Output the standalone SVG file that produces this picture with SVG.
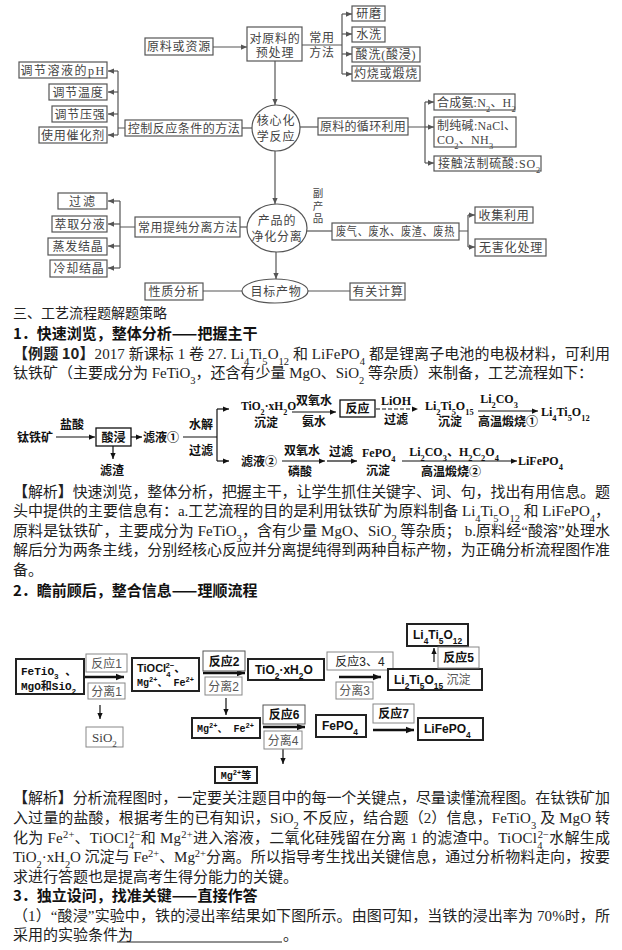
<svg xmlns="http://www.w3.org/2000/svg" width="622" height="950" viewBox="0 0 622 950">
<defs>
<style>
.bg{fill:#fff}
.box{fill:#fff;stroke:#555;stroke-width:1.2}
.ln{stroke:#555;stroke-width:1.2;fill:none}
.t{font-family:'Liberation Serif','Noto Sans CJK SC',serif;font-size:12px;fill:#444;letter-spacing:0.8px}
.tc{text-anchor:middle}
.p{font-family:'Liberation Serif','Noto Sans CJK SC',serif;font-size:15px;fill:#222}
.h{font-family:'Noto Sans CJK SC',sans-serif;font-size:15px;font-weight:bold;fill:#111}
.f1{font-family:'Liberation Serif','Noto Sans CJK SC',serif;font-size:12px;font-weight:bold;fill:#111}
.l1{stroke:#111;stroke-width:1.2;fill:none}
.sb{font-size:70%;baseline-shift:sub}
.sp{font-size:70%;baseline-shift:super}
.lb{fill:#fff;stroke:#888;stroke-width:1}
.sbx{fill:#fff;stroke:#222;stroke-width:2}
.g2{font-family:'Liberation Sans','Noto Sans CJK SC',sans-serif;font-size:12px;fill:#555}
.b2{font-family:'Liberation Sans','Noto Sans CJK SC',sans-serif;font-size:12px;font-weight:bold;fill:#111}
.m2{font-family:'Liberation Mono','Noto Sans CJK SC',monospace;font-size:11px;font-weight:bold;fill:#111}
.th{stroke:#111;stroke-width:2.5;fill:none}
</style>
<marker id="ag" viewBox="0 0 8 8" refX="8" refY="4" markerWidth="6" markerHeight="6" markerUnits="userSpaceOnUse" orient="auto"><path d="M0,0.5 L8,4 L0,7.5 z" fill="#555"/></marker>
<marker id="ab" viewBox="0 0 8 8" refX="8" refY="4" markerWidth="6" markerHeight="6" markerUnits="userSpaceOnUse" orient="auto"><path d="M0,0.5 L8,4 L0,7.5 z" fill="#111"/></marker>
<marker id="at" viewBox="0 0 10 10" refX="10" refY="5" markerWidth="8" markerHeight="8" markerUnits="userSpaceOnUse" orient="auto"><path d="M0,1 L10,5 L0,9 z" fill="#111"/></marker>
</defs>
<rect class="bg" x="0" y="0" width="622" height="950"/>

<g id="connectors">
<path class="ln" d="M213,47 H247" marker-end="url(#ag)"/>
<path class="ln" d="M302,45 H342 M342,14 V74"/>
<path class="ln" d="M342,14 H352" marker-end="url(#ag)"/>
<path class="ln" d="M342,34 H352" marker-end="url(#ag)"/>
<path class="ln" d="M342,54 H352" marker-end="url(#ag)"/>
<path class="ln" d="M342,74 H352" marker-end="url(#ag)"/>
<path class="ln" d="M275,61 V105" marker-end="url(#ag)"/>
<path class="ln" d="M242,128 H252"/>
<path class="ln" d="M125,128 H118 M118,71 V135"/>
<path class="ln" d="M118,71 H108" marker-end="url(#ag)"/>
<path class="ln" d="M118,92 H108" marker-end="url(#ag)"/>
<path class="ln" d="M118,114 H108" marker-end="url(#ag)"/>
<path class="ln" d="M118,135 H108" marker-end="url(#ag)"/>
<path class="ln" d="M300,127 H318"/>
<path class="ln" d="M408,127 H425 M425,102 V163"/>
<path class="ln" d="M425,102 H434" marker-end="url(#ag)"/>
<path class="ln" d="M425,127 H434" marker-end="url(#ag)"/>
<path class="ln" d="M425,163 H434" marker-end="url(#ag)"/>
<path class="ln" d="M275,151 V204" marker-end="url(#ag)"/>
<path class="ln" d="M240,227 H247"/>
<path class="ln" d="M135,227 H120 M120,201 V268"/>
<path class="ln" d="M120,201 H108" marker-end="url(#ag)"/>
<path class="ln" d="M120,224 H108" marker-end="url(#ag)"/>
<path class="ln" d="M120,246 H108" marker-end="url(#ag)"/>
<path class="ln" d="M120,268 H108" marker-end="url(#ag)"/>
<path class="ln" d="M307,231 H332"/>
<path class="ln" d="M459,231 H468 M468,215 V247"/>
<path class="ln" d="M468,215 H475" marker-end="url(#ag)"/>
<path class="ln" d="M468,247 H475" marker-end="url(#ag)"/>
<path class="ln" d="M276,252 V279" marker-end="url(#ag)"/>
<path class="ln" d="M203,291 H242"/>
<path class="ln" d="M308,291 H350"/>
<path class="l1" d="M56,437 H95" marker-end="url(#ab)"/>
<path class="l1" d="M113,446 V459" marker-end="url(#ab)"/>
<path class="l1" d="M131,437 H142" marker-end="url(#ab)"/>
<path class="l1" d="M183,437 H217 M217,409 V461"/>
<path class="l1" d="M217,409 H229" marker-end="url(#ab)"/>
<path class="l1" d="M217,461 H229" marker-end="url(#ab)"/>
<path class="l1" d="M292,412 H336" marker-end="url(#ab)"/>
<path class="l1" d="M376,409 H418" stroke-dasharray="4,2" marker-end="url(#ab)"/>
<path class="l1" d="M478,411 H538" marker-end="url(#ab)"/>
<path class="l1" d="M282,461 H325" marker-end="url(#ab)"/>
<path class="l1" d="M327,461 H357" marker-end="url(#ab)"/>
<path class="l1" d="M402,461 H517" marker-end="url(#ab)"/>
<path class="th" d="M84,677 H124" marker-end="url(#at)"/>
<path class="l1" d="M100,705 V719" marker-end="url(#ab)"/>
<path class="th" d="M203,673 H245" marker-end="url(#at)"/>
<path class="l1" d="M226,698 V715" marker-end="url(#ab)"/>
<path class="th" d="M263,727 H305" marker-end="url(#at)"/>
<path class="l1" d="M283,749 V764" marker-end="url(#ab)"/>
<path class="th" d="M339,677 H381" marker-end="url(#at)"/>
<path class="l1" d="M434,662 V648" marker-end="url(#ab)"/>
<path class="th" d="M373,730 H414" marker-end="url(#at)"/>
</g>

<g id="n-raw"><rect class="box" x="145" y="38" width="68" height="17"/><text class="t tc" x="179" y="51">原料或资源</text></g>
<g id="n-pre"><rect class="box" x="247" y="27" width="55" height="34"/><text class="t tc" x="275" y="42.5">对原料的</text><text class="t tc" x="275" y="56.5">预处理</text></g>
<g id="lbl-method"><text class="t tc" x="322" y="42">常用</text><text class="t tc" x="322" y="57">方法</text></g>
<g id="n-grind"><rect class="box" x="352" y="6" width="33" height="15"/><text class="t tc" x="369" y="18">研磨</text></g>
<g id="n-wash"><rect class="box" x="352" y="27" width="33" height="15"/><text class="t tc" x="369" y="39">水洗</text></g>
<g id="n-acid"><rect class="box" x="352" y="47" width="68" height="15"/><text class="t tc" x="386" y="59">酸洗(酸浸)</text></g>
<g id="n-burn"><rect class="box" x="352" y="66" width="68" height="15"/><text class="t tc" x="386" y="78">灼烧或煅烧</text></g>

<g id="n-core"><ellipse class="box" cx="276" cy="128" rx="24" ry="23"/><text class="t tc" x="276" y="125">核心化</text><text class="t tc" x="276" y="141">学反应</text></g>
<g id="n-ctrl"><rect class="box" x="125" y="120" width="117" height="16"/><text class="t tc" x="184" y="132.5" style="letter-spacing:0.5px">控制反应条件的方法</text></g>
<g id="n-ph"><rect class="box" x="19" y="62" width="88" height="16"/><text class="t tc" x="63" y="74.5" style="letter-spacing:1.5px">调节溶液的pH</text></g>
<g id="n-temp"><rect class="box" x="49" y="84" width="58" height="16"/><text class="t tc" x="78" y="96.5">调节温度</text></g>
<g id="n-press"><rect class="box" x="52" y="106" width="55" height="16"/><text class="t tc" x="80" y="118.5">调节压强</text></g>
<g id="n-cat"><rect class="box" x="39" y="127" width="68" height="16"/><text class="t tc" x="73" y="139.5">使用催化剂</text></g>

<g id="n-cycle"><rect class="box" x="318" y="118" width="90" height="17"/><text class="t tc" x="363" y="131" style="letter-spacing:0.3px">原料的循环利用</text></g>
<g id="n-nh3"><rect class="box" x="434" y="94" width="81" height="16"/><text class="t" x="437" y="106.5" style="letter-spacing:0.2px">合成氨:N<tspan class="sb">2</tspan>、H<tspan class="sb">2</tspan></text></g>
<g id="n-soda"><rect class="box" x="434" y="117" width="82" height="30"/><text class="t" x="437" y="129.5" style="letter-spacing:0.3px">制纯碱:NaCl、</text><text class="t" x="437" y="144" style="letter-spacing:0.3px">CO<tspan class="sb">2</tspan>、NH<tspan class="sb">3</tspan></text></g>
<g id="n-h2so4"><rect class="box" x="434" y="156" width="107" height="15"/><text class="t" x="438" y="168">接触法制硫酸:SO<tspan class="sb">2</tspan></text></g>

<g id="n-purify"><ellipse class="box" cx="277" cy="228" rx="30" ry="24"/><text class="t tc" x="277" y="225">产品的</text><text class="t tc" x="277" y="240.5">净化分离</text></g>
<g id="n-sepm"><rect class="box" x="135" y="217" width="105" height="20"/><text class="t tc" x="188" y="231.5" style="letter-spacing:0.5px">常用提纯分离方法</text></g>
<g id="n-filter"><rect class="box" x="58" y="193" width="49" height="16"/><text class="t tc" x="83" y="205.5" style="letter-spacing:2px">过滤</text></g>
<g id="n-extract"><rect class="box" x="52" y="216" width="55" height="16"/><text class="t tc" x="80" y="228.5">萃取分液</text></g>
<g id="n-evap"><rect class="box" x="48" y="238" width="59" height="17"/><text class="t tc" x="78" y="251">蒸发结晶</text></g>
<g id="n-cool"><rect class="box" x="50" y="260" width="57" height="17"/><text class="t tc" x="79" y="273">冷却结晶</text></g>
<g id="lbl-by"><text class="t tc" x="318" y="197" style="font-size:10.5px;letter-spacing:0">副</text><text class="t tc" x="318" y="209.5" style="font-size:10.5px;letter-spacing:0">产</text><text class="t tc" x="318" y="222" style="font-size:10.5px;letter-spacing:0">品</text></g>
<g id="n-waste"><rect class="box" x="332" y="223" width="127" height="17"/><text class="t" x="336" y="236" textLength="119" lengthAdjust="spacingAndGlyphs">废气、废水、废渣、废热</text></g>
<g id="n-collect"><rect class="box" x="475" y="207" width="58" height="16"/><text class="t tc" x="504" y="219.5">收集利用</text></g>
<g id="n-harmless"><rect class="box" x="475" y="239" width="71" height="17"/><text class="t tc" x="511" y="252">无害化处理</text></g>
<g id="n-target"><ellipse class="box" cx="275" cy="291" rx="33" ry="12"/><text class="t tc" x="276" y="295.5">目标产物</text></g>
<g id="n-prop"><rect class="box" x="145" y="283" width="58" height="17"/><text class="t tc" x="174" y="296">性质分析</text></g>
<g id="n-calc"><rect class="box" x="350" y="283" width="55" height="17"/><text class="t tc" x="378" y="296">有关计算</text></g>

<g id="text-sec1">
<text class="p" x="13" y="318" style="font-family:'Noto Sans CJK SC',sans-serif;font-size:14px">三、工艺流程题解题策略</text>
<text class="h" x="13" y="339">1．快速浏览，整体分析——把握主干</text>
<text class="p" x="13" y="359" textLength="597" lengthAdjust="spacing"><tspan font-weight="bold" font-family="Noto Sans CJK SC, sans-serif">【例题 10】</tspan>2017 新课标 1 卷 27. Li<tspan class="sb">4</tspan>Ti<tspan class="sb">5</tspan>O<tspan class="sb">12</tspan> 和 LiFePO<tspan class="sb">4</tspan> 都是锂离子电池的电极材料，可利用</text>
<text class="p" x="13" y="378" textLength="580" lengthAdjust="spacing">钛铁矿（主要成分为 FeTiO<tspan class="sb">3</tspan>，还含有少量 MgO、SiO<tspan class="sb">2</tspan> 等杂质）来制备，工艺流程如下：</text>
</g>

<g id="f1-ore"><text class="f1" x="17" y="442">钛铁矿</text></g>
<g id="f1-hcl"><text class="f1 tc" x="72" y="429">盐酸</text></g>
<g id="f1-leach"><rect x="96" y="428" width="35" height="18" fill="#fff" stroke="#111" stroke-width="1.3"/><text class="f1 tc" x="113.5" y="441.5">酸浸</text></g>
<g id="f1-residue"><text class="f1 tc" x="112" y="475">滤渣</text></g>
<g id="f1-filtrate1"><text class="f1" x="143" y="442">滤液①</text></g>
<g id="f1-lbl1"><text class="f1 tc" x="201" y="429">水解</text><text class="f1 tc" x="201" y="455">过滤</text></g>
<g id="f1-tio2"><text class="f1" x="241" y="410" style="font-size:11.5px">TiO<tspan class="sb">2</tspan>·xH<tspan class="sb">2</tspan>O</text><text class="f1 tc" x="266" y="427">沉淀</text></g>
<g id="f1-lbl2"><text class="f1 tc" x="314" y="405">双氧水</text><text class="f1 tc" x="314" y="426">氨水</text></g>
<g id="f1-react"><rect x="340" y="400" width="35" height="17" fill="#fff" stroke="#111" stroke-width="1.3"/><text class="f1 tc" x="357.5" y="413">反应</text></g>
<g id="f1-lbl3"><text class="f1 tc" x="396" y="405">LiOH</text><text class="f1 tc" x="396" y="424">过滤</text></g>
<g id="f1-li2"><text class="f1" x="425" y="410">Li<tspan class="sb">2</tspan>Ti<tspan class="sb">5</tspan>O<tspan class="sb">15</tspan></text><text class="f1 tc" x="450" y="426">沉淀</text></g>
<g id="f1-lbl4"><text class="f1 tc" x="499" y="403">Li<tspan class="sb">2</tspan>CO<tspan class="sb">3</tspan></text><text class="f1 tc" x="508" y="426">高温煅烧①</text></g>
<g id="f1-li4"><text class="f1" x="541" y="416">Li<tspan class="sb">4</tspan>Ti<tspan class="sb">5</tspan>O<tspan class="sb">12</tspan></text></g>
<g id="f1-filtrate2"><text class="f1" x="241" y="466">滤液②</text></g>
<g id="f1-lbl5"><text class="f1 tc" x="302" y="455">双氧水</text><text class="f1 tc" x="300" y="476">磷酸</text></g>
<g id="f1-lbl6"><text class="f1 tc" x="341" y="456">过滤</text></g>
<g id="f1-fepo4"><text class="f1" x="362" y="457">FePO<tspan class="sb">4</tspan></text><text class="f1 tc" x="378" y="475">沉淀</text></g>
<g id="f1-lbl7"><text class="f1 tc" x="454" y="456">Li<tspan class="sb">2</tspan>CO<tspan class="sb">3</tspan>、H<tspan class="sb">2</tspan>C<tspan class="sb">2</tspan>O<tspan class="sb">4</tspan></text><text class="f1 tc" x="451" y="476">高温煅烧②</text></g>
<g id="f1-lifepo4"><text class="f1" x="518" y="465">LiFePO<tspan class="sb">4</tspan></text></g>

<g id="text-ana1">
<text class="p" x="13" y="497" textLength="597" lengthAdjust="spacing"><tspan font-weight="bold">【</tspan>解析<tspan font-weight="bold">】</tspan>快速浏览，整体分析，把握主干，让学生抓住关键字、词、句，找出有用信息。题</text>
<text class="p" x="13" y="516" textLength="597" lengthAdjust="spacing">头中提供的主要信息有：a.工艺流程的目的是利用钛铁矿为原料制备 Li<tspan class="sb">4</tspan>Ti<tspan class="sb">5</tspan>O<tspan class="sb">12</tspan> 和 LiFePO<tspan class="sb">4</tspan>，</text>
<text class="p" x="13" y="536" textLength="597" lengthAdjust="spacing">原料是钛铁矿，主要成分为 FeTiO<tspan class="sb">3</tspan>，含有少量 MgO、SiO<tspan class="sb">2</tspan> 等杂质； b.原料经“酸溶”处理水</text>
<text class="p" x="13" y="555" textLength="597" lengthAdjust="spacing">解后分为两条主线，分别经核心反应并分离提纯得到两种目标产物，为正确分析流程图作准</text>
<text class="p" x="13" y="575">备。</text>
<text class="h" x="13" y="596">2．瞻前顾后，整合信息——理顺流程</text>
</g>

<g id="f2-feed"><rect class="sbx" x="16" y="659" width="68" height="35"/><text class="m2" x="21" y="675">FeTiO<tspan class="sb">3</tspan> 、</text><text class="m2" x="21" y="690">MgO和SiO<tspan class="sb">2</tspan></text></g>
<g id="f2-r1"><rect class="lb" x="86" y="654" width="41" height="18"/><text class="g2 tc" x="106.5" y="667.5">反应1</text></g>
<g id="f2-s1"><rect class="lb" x="88" y="683" width="37" height="16"/><text class="g2 tc" x="106.5" y="695.5">分离1</text></g>
<g id="f2-sio2"><rect class="lb" x="86" y="727" width="37" height="20"/><text class="p tc" x="104.5" y="742" style="font-size:13px;fill:#444">SiO<tspan class="sb">2</tspan></text></g>
<g id="f2-tiocl"><rect class="sbx" x="132" y="658" width="67" height="33"/><text class="b2" x="137" y="672" style="font-size:11px">TiOCl<tspan class="sb">4</tspan><tspan class="sp" dx="-5">2−</tspan>、</text><text class="m2" x="137" y="686" style="font-size:10px">Mg<tspan class="sp">2+</tspan>、 Fe<tspan class="sp">2+</tspan></text></g>
<g id="f2-r2"><rect class="lb" x="203" y="651" width="42" height="20" style="stroke:#555"/><text class="b2 tc" x="224" y="665.5">反应2</text></g>
<g id="f2-s2"><rect class="lb" x="205" y="677" width="37" height="18"/><text class="g2 tc" x="223.5" y="690.5">分离2</text></g>
<g id="f2-tio2"><rect class="sbx" x="248" y="659" width="76" height="21"/><text class="b2" x="255" y="674">TiO<tspan class="sb">2</tspan>·xH<tspan class="sb">2</tspan>O</text></g>
<g id="f2-mgfe"><rect class="sbx" x="192" y="718" width="68" height="20"/><text class="m2" x="197" y="732" style="font-size:10px">Mg<tspan class="sp">2+</tspan>、 Fe<tspan class="sp">2+</tspan></text></g>
<g id="f2-r6"><rect class="lb" x="263" y="705" width="42" height="19" style="stroke:#555"/><text class="b2 tc" x="284" y="719">反应6</text></g>
<g id="f2-s4"><rect class="lb" x="264" y="731" width="38" height="18"/><text class="g2 tc" x="283" y="744.5">分离4</text></g>
<g id="f2-mg"><rect class="sbx" x="215" y="767" width="42" height="16"/><text class="m2 tc" x="236" y="779" style="font-size:10px">Mg<tspan class="sp">2+</tspan>等</text></g>
<g id="f2-r34"><rect class="lb" x="327" y="652" width="66" height="18"/><text class="b2 tc" x="360" y="665.5" style="font-weight:normal;fill:#222">反应3、4</text></g>
<g id="f2-s3"><rect class="lb" x="336" y="682" width="37" height="17"/><text class="g2 tc" x="354.5" y="695">分离3</text></g>
<g id="f2-li2"><rect class="sbx" x="388" y="669" width="94" height="21"/><text class="b2" x="394" y="684">Li<tspan class="sb">2</tspan>Ti<tspan class="sb">5</tspan>O<tspan class="sb">15</tspan><tspan font-weight="normal" fill="#555"> 沉淀</tspan></text></g>
<g id="f2-li4"><rect class="sbx" x="407" y="624" width="61" height="22"/><text class="b2" x="413" y="639">Li<tspan class="sb">4</tspan>Ti<tspan class="sb">5</tspan>O<tspan class="sb">12</tspan></text></g>
<g id="f2-r5"><rect class="lb" x="438" y="647" width="41" height="21"/><text class="b2 tc" x="458.5" y="662">反应5</text></g>
<g id="f2-fepo4"><rect class="sbx" x="316" y="715" width="50" height="22"/><text class="b2" x="322" y="730">FePO<tspan class="sb">4</tspan></text></g>
<g id="f2-r7"><rect class="lb" x="373" y="704" width="41" height="19"/><text class="b2 tc" x="393.5" y="718">反应7</text></g>
<g id="f2-lifepo4"><rect class="sbx" x="418" y="718" width="65" height="22"/><text class="b2" x="424" y="733">LiFePO<tspan class="sb">4</tspan></text></g>

<g id="text-ana2">
<text class="p" x="13" y="803" textLength="597" lengthAdjust="spacing"><tspan font-weight="bold">【</tspan>解析<tspan font-weight="bold">】</tspan>分析流程图时，一定要关注题目中的每一个关键点，尽量读懂流程图。在钛铁矿加</text>
<text class="p" x="13" y="823" textLength="597" lengthAdjust="spacing">入过量的盐酸，根据考生的已有知识，SiO<tspan class="sb">2</tspan> 不反应，结合题（2）信息，FeTiO<tspan class="sb">3</tspan> 及 MgO 转</text>
<text class="p" x="13" y="843" textLength="597" lengthAdjust="spacing">化为 Fe<tspan class="sp">2+</tspan>、TiOCl<tspan class="sb">4</tspan><tspan class="sp" dx="-5">2−</tspan>和 Mg<tspan class="sp">2+</tspan>进入溶液，二氧化硅残留在分离 1 的滤渣中。TiOCl<tspan class="sb">4</tspan><tspan class="sp" dx="-5">2−</tspan>水解生成</text>
<text class="p" x="13" y="862" textLength="597" lengthAdjust="spacing">TiO<tspan class="sb">2</tspan>·xH<tspan class="sb">2</tspan>O 沉淀与 Fe<tspan class="sp">2+</tspan>、Mg<tspan class="sp">2+</tspan>分离。所以指导考生找出关键信息，通过分析物料走向，按要</text>
<text class="p" x="13" y="882">求进行答题也是提高考生得分能力的关键。</text>
<text class="h" x="13" y="901">3．独立设问，找准关键——直接作答</text>
<text class="p" x="13" y="921" textLength="597" lengthAdjust="spacing">（1）“酸浸”实验中，铁的浸出率结果如下图所示。由图可知，当铁的浸出率为 70%时，所</text>
<text class="p" x="13" y="940">采用的实验条件为</text>
<line x1="117" y1="942" x2="282" y2="942" stroke="#222" stroke-width="1"/>
<text class="p" x="283" y="940">。</text>
</g>
</svg>
